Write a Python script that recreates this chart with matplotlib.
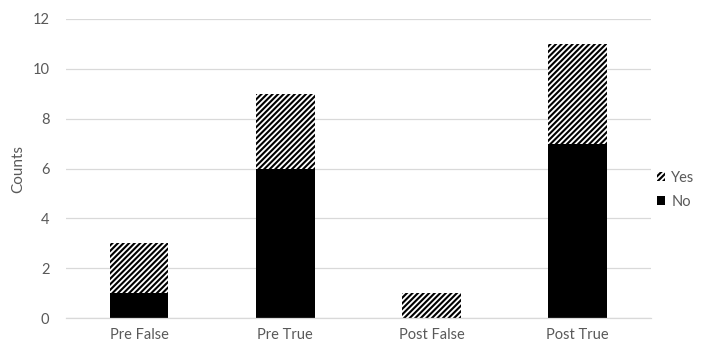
import matplotlib
matplotlib.use("Agg")
import matplotlib.pyplot as plt
import numpy as np

plt.rcParams.update({"font.family": ["Lato", "DejaVu Sans"], "hatch.linewidth": 1.5,
                     "hatch.color": "black"})

categories = ["Pre False", "Pre True", "Post False", "Post True"]
no_counts = [1, 6, 0, 7]
yes_counts = [2, 3, 1, 4]

TXT = "#595959"
GRID = "#d9d9d9"

fig = plt.figure(figsize=(7.19, 3.45), dpi=100)
ax = fig.add_axes([0.092, 0.078, 0.813, 0.867])

x = np.arange(len(categories))
w = 0.4
b_no = ax.bar(x, no_counts, w, color="black", edgecolor="black", linewidth=0, label="No", zorder=2)
b_yes = ax.bar(x, yes_counts, w, bottom=no_counts, color="white", edgecolor="black",
               hatch="//////", linewidth=0, label="Yes", zorder=2)

ax.set_xlim(-0.5, len(categories) - 0.5)
ax.set_ylim(0, 12)
ax.set_yticks(range(0, 13, 2))
ax.set_xticks(x)
ax.set_xticklabels(categories)
ax.yaxis.grid(True, color=GRID, linewidth=0.9, zorder=0)
ax.set_axisbelow(True)
for s in ["top", "right", "left"]:
    ax.spines[s].set_visible(False)
ax.spines["bottom"].set_color(GRID)
ax.spines["bottom"].set_linewidth(0.9)
ax.tick_params(length=0, labelsize=10.5, colors=TXT, pad=7)
ax.tick_params(axis="y", pad=12)
ax.set_ylabel("Counts", fontsize=11, color=TXT, labelpad=5)

fig.legend([b_yes, b_no], ["Yes", "No"], loc="center left", bbox_to_anchor=(0.895, 0.45),
           frameon=False, handlelength=0.6, handleheight=0.6, handletextpad=0.4,
           labelspacing=0.7, fontsize=10.5, labelcolor=TXT)

fig.savefig("out.png", dpi=100)
